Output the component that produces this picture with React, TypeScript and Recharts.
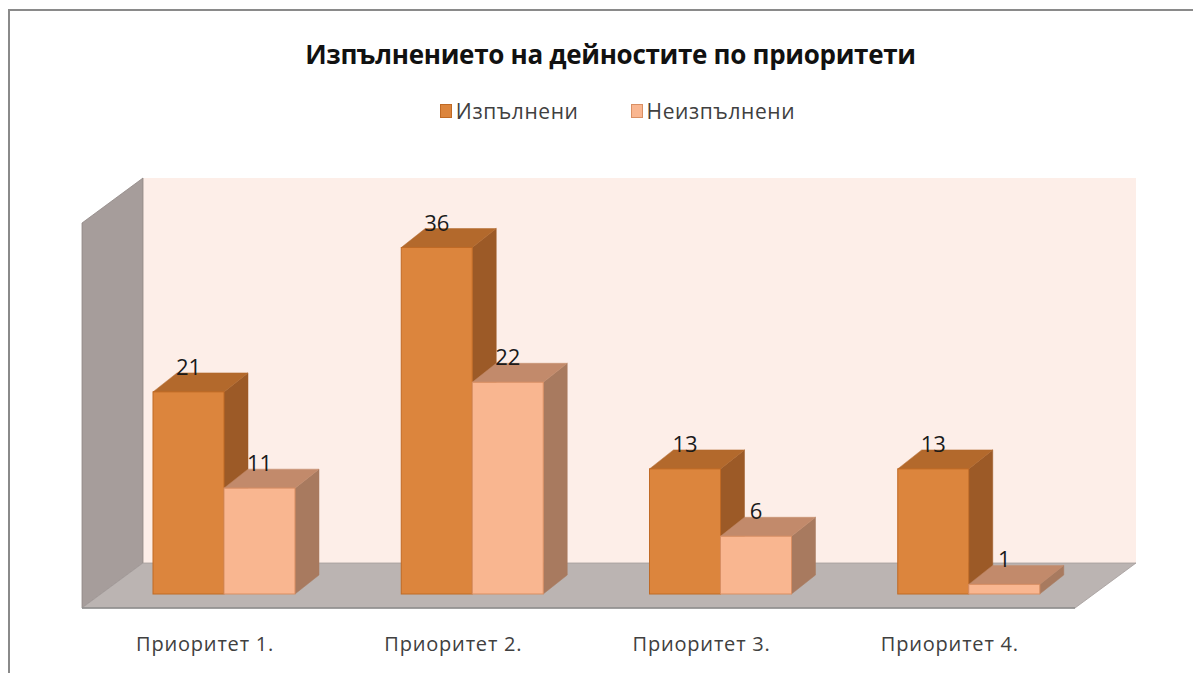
import React from "react";
import { BarChart, Bar, XAxis, YAxis, LabelList, Legend, ReferenceArea } from "recharts";

const categories = ["Приоритет 1.", "Приоритет 2.", "Приоритет 3.", "Приоритет 4."];
const doneValues = [21, 36, 13, 13];
const notDoneValues = [11, 22, 6, 1];
const seriesNames = ["Изпълнени", "Неизпълнени"];

const data = categories.map((name, i) => ({
  name,
  done: doneValues[i],
  notDone: notDoneValues[i],
}));

const FONT = "'Open Sans', 'Noto Sans', sans-serif";

// bar depth
const BDX = 24;
const BDY = 19;

const palette = {
  done: { front: "#dc853d", top: "#b3692c", side: "#9c5a27", stroke: "#c06a25" },
  notDone: { front: "#f9b690", top: "#c28a6b", side: "#a87a5f", stroke: "#d98f63" },
};

function Box3D(props: any) {
  const { x, y, width, height, colors } = props;
  if (width == null || height == null) return null;
  const top = `${x},${y} ${x + BDX},${y - BDY} ${x + width + BDX},${y - BDY} ${x + width},${y}`;
  const side = `${x + width},${y} ${x + width + BDX},${y - BDY} ${x + width + BDX},${y + height - BDY} ${x + width},${y + height}`;
  return (
    <g>
      <polygon points={side} fill={colors.side} stroke={colors.side} strokeWidth={0.5} />
      <polygon points={top} fill={colors.top} stroke={colors.top} strokeWidth={0.5} />
      <rect x={x} y={y} width={width} height={height} fill={colors.front} stroke={colors.stroke} strokeWidth={1} />
    </g>
  );
}

function Walls(props: any) {
  const { x, y, width, height } = props;
  // back plane and front plane offsets from the bar plane
  const bx = 43, by = -31, fx = -18, fy = 14;
  const bottom = y + height;
  const leftWall = `${x + fx},${y + fy} ${x + bx},${y + by} ${x + bx},${bottom + by} ${x + fx},${bottom + fy}`;
  const floor = `${x + fx},${bottom + fy} ${x + bx},${bottom + by} ${x + width + bx},${bottom + by} ${x + width + fx},${bottom + fy}`;
  return (
    <g>
      <rect x={x + bx} y={y + by} width={width} height={height} fill="#fdeee8" />
      <polygon points={leftWall} fill="#a69d9b" stroke="#8f8684" strokeWidth={0.8} />
      <polygon points={floor} fill="#bbb4b2" stroke="#a39c9a" strokeWidth={0.8} />
      <line x1={x + fx} y1={bottom + fy} x2={x + width + fx} y2={bottom + fy} stroke="#8c8c8c" strokeWidth={1.5} />
    </g>
  );
}

function CategoryTick(props: any) {
  const { x, y, payload } = props;
  return (
    <text x={x - 19} y={y + 49} textAnchor="middle" fontFamily={FONT} fontSize={20} letterSpacing={0.8} fill="#404040">
      {payload.value}
    </text>
  );
}

function ValueLabel(props: any) {
  const { x, y, width, value } = props;
  return (
    <text x={x + width / 2} y={y - BDY + 2} textAnchor="middle" fontFamily={FONT} fontSize={22} fill="#1a1a1a">
      {value}
    </text>
  );
}

function LegendContent() {
  const items = [
    { name: seriesNames[0], c: palette.done },
    { name: seriesNames[1], c: palette.notDone },
  ];
  return (
    <div style={{ display: "flex", justifyContent: "center", gap: 52, fontFamily: FONT, fontSize: 21, letterSpacing: 0.6, color: "#404040" }}>
      {items.map((it) => (
        <div key={it.name} style={{ display: "flex", alignItems: "center" }}>
          <span style={{ display: "inline-block", width: 10, height: 12, background: it.c.front, border: `1px solid ${it.c.stroke}`, marginRight: 4 }} />
          {it.name}
        </div>
      ))}
    </div>
  );
}

export default function App() {
  return (
    <div style={{ position: "relative", width: 1191, height: 663, marginTop: 1, borderTop: "2px solid #8a8a8a", borderLeft: "2px solid #8a8a8a", background: "#fff" }}>
      <div style={{ position: "absolute", left: 0, width: 1201, top: 25, textAlign: "center", fontFamily: FONT, fontWeight: 700, fontSize: 26, letterSpacing: -0.3, color: "#111" }}>
        Изпълнението на дейностите по приоритети
      </div>
      <BarChart width={1191} height={663} data={data} margin={{ top: 198, right: 108, bottom: 50, left: 90 }} barCategoryGap={53} barGap={0}>
        <XAxis dataKey="name" axisLine={false} tickLine={false} tick={<CategoryTick />} interval={0} />
        <YAxis hide domain={[0, 40]} />
        <Legend verticalAlign="middle" align="center" layout="horizontal" wrapperStyle={{ top: 86, left: 12, width: 1191 }} content={<LegendContent />} />
        <ReferenceArea y1={0} y2={40} shape={<Walls />} />
        <Bar dataKey="done" name={seriesNames[0]} fill={palette.done.front} isAnimationActive={false} shape={(p: any) => <Box3D {...p} colors={palette.done} />}>
          <LabelList dataKey="done" content={<ValueLabel />} />
        </Bar>
        <Bar dataKey="notDone" name={seriesNames[1]} fill={palette.notDone.front} isAnimationActive={false} shape={(p: any) => <Box3D {...p} colors={palette.notDone} />}>
          <LabelList dataKey="notDone" content={<ValueLabel />} />
        </Bar>
      </BarChart>
    </div>
  );
}
